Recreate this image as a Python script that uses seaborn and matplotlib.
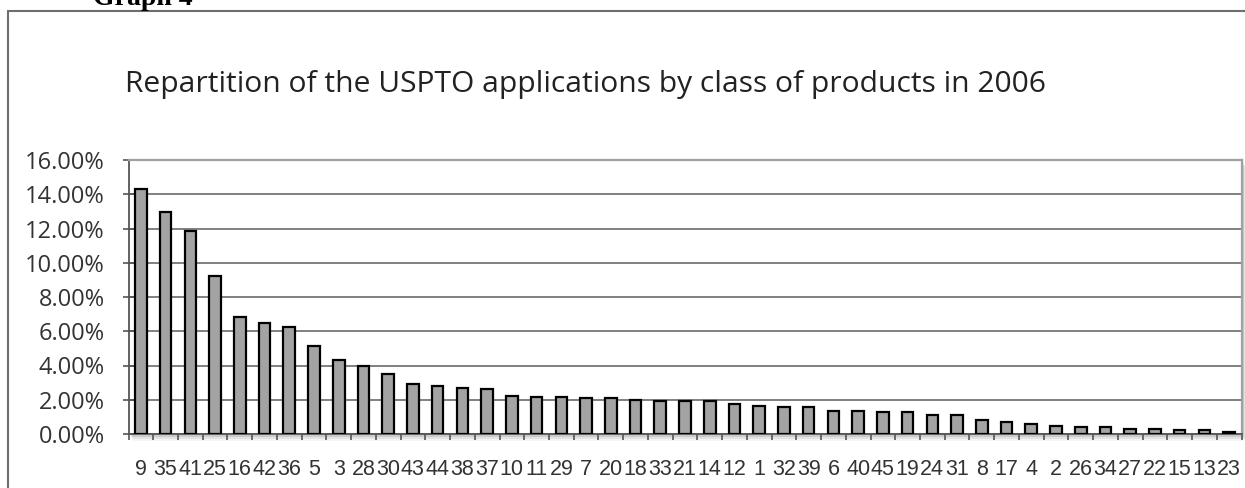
import matplotlib
matplotlib.use("Agg")
import matplotlib.pyplot as plt
import matplotlib.ticker as mticker
from matplotlib.patches import Rectangle
from matplotlib.lines import Line2D
import seaborn as sns
import pandas as pd
import numpy as np

classes = ["9", "35", "41", "25", "16", "42", "36", "5", "3", "28", "30", "43", "44", "38", "37",
           "10", "11", "29", "7", "20", "18", "33", "21", "14", "12", "1", "32", "39", "6", "40",
           "45", "19", "24", "31", "8", "17", "4", "2", "26", "34", "27", "22", "15", "13", "23"]
shares = [14.30, 12.95, 11.83, 9.22, 6.84, 6.47, 6.26, 5.14, 4.31, 3.96, 3.50, 2.90, 2.80, 2.67, 2.63,
          2.24, 2.15, 2.17, 2.09, 2.09, 2.01, 1.94, 1.90, 1.91, 1.78, 1.63, 1.57, 1.57, 1.36, 1.36,
          1.30, 1.30, 1.13, 1.13, 0.80, 0.68, 0.61, 0.47, 0.39, 0.39, 0.32, 0.32, 0.26, 0.26, 0.10]
yticks = [0, 2, 4, 6, 8, 10, 12, 14, 16]
title = "Repartition of the USPTO applications by class of products in 2006"

df = pd.DataFrame({"cls": classes, "share": shares})

sns.set_theme(style="white")
plt.rcParams['font.family'] = ['Open Sans', 'DejaVu Sans']

W, H = 1245, 488
fig = plt.figure(figsize=(W / 100, H / 100), dpi=100)
fig.patch.set_facecolor("white")

L, R, B, T = 128.5, 1241.5, 434, 160
ax = fig.add_axes([L / W, 1 - B / H, (R - L) / W, (B - T) / H])

# soft shadow behind plot area
for k, a in enumerate([0.10, 0.07, 0.04]):
    fig.patches.append(Rectangle(((L + 2 + k) / W, 1 - (B + 3 + 2 * k) / H), (R - L) / W, (B - T) / H,
                                 transform=fig.transFigure, facecolor="#000000", alpha=a,
                                 edgecolor="none", zorder=-5))

sns.barplot(data=df, x="cls", y="share", order=classes, color="#a3a3a3", saturation=1,
            edgecolor="black", linewidth=1.6, width=0.47, ax=ax, zorder=3)

ax.set_xlim(-0.5, len(classes) - 0.5)
ax.set_ylim(0, 16)
ax.set_yticks(yticks)
ax.yaxis.set_major_formatter(mticker.FuncFormatter(lambda v, p: f"{v:.2f}%"))
ax.set_xlabel("")
ax.set_ylabel("")
ax.set_facecolor("white")

ax.grid(axis="y", color="#808080", linewidth=1.4, zorder=0)
ax.grid(axis="x", visible=False)
ax.set_axisbelow(True)

for s in ["top", "right"]:
    ax.spines[s].set_color("#a0a0a0")
    ax.spines[s].set_linewidth(1.6)
for s in ["left", "bottom"]:
    ax.spines[s].set_color("#555555")
    ax.spines[s].set_linewidth(1.3)

ax.tick_params(axis="y", direction="inout", length=8, width=1.2, color="#555555",
               pad=13, labelsize=17, labelcolor="#333333", left=True)
ax.tick_params(axis="x", which="major", length=0, pad=18, labelsize=15.5, labelcolor="#333333")
for lab in ax.get_xticklabels():
    lab.set_family(["Liberation Sans", "DejaVu Sans"])
ax.xaxis.set_minor_locator(mticker.FixedLocator(np.arange(-0.5, len(classes), 1.0)))
ax.tick_params(axis="x", which="minor", direction="out", length=4.5, width=1.2,
               color="#555555", bottom=True)

# title
fig.text(125 / W, 1 - 92 / H, title, ha="left", va="baseline", fontsize=21.6,
         color="#222222", family=["Open Sans", "DejaVu Sans"])

# outer chart border (left and top)
fig.add_artist(Line2D([8 / W, 8 / W], [0, 1 - 10.7 / H], transform=fig.transFigure,
                      color="#6e6e6e", linewidth=1.5))
fig.add_artist(Line2D([8 / W, 1.0], [1 - 10.7 / H, 1 - 10.7 / H], transform=fig.transFigure,
                      color="#6e6e6e", linewidth=1.5))

# document caption partly cut off at the top (as in the source page)
fig.text(93 / W, 1 - 5 / H, "Graph 4", ha="left", va="baseline", fontsize=20,
         fontweight="bold", color="black", family=["Liberation Serif", "DejaVu Serif"])

fig.savefig("out.png", dpi=100, facecolor="white")
